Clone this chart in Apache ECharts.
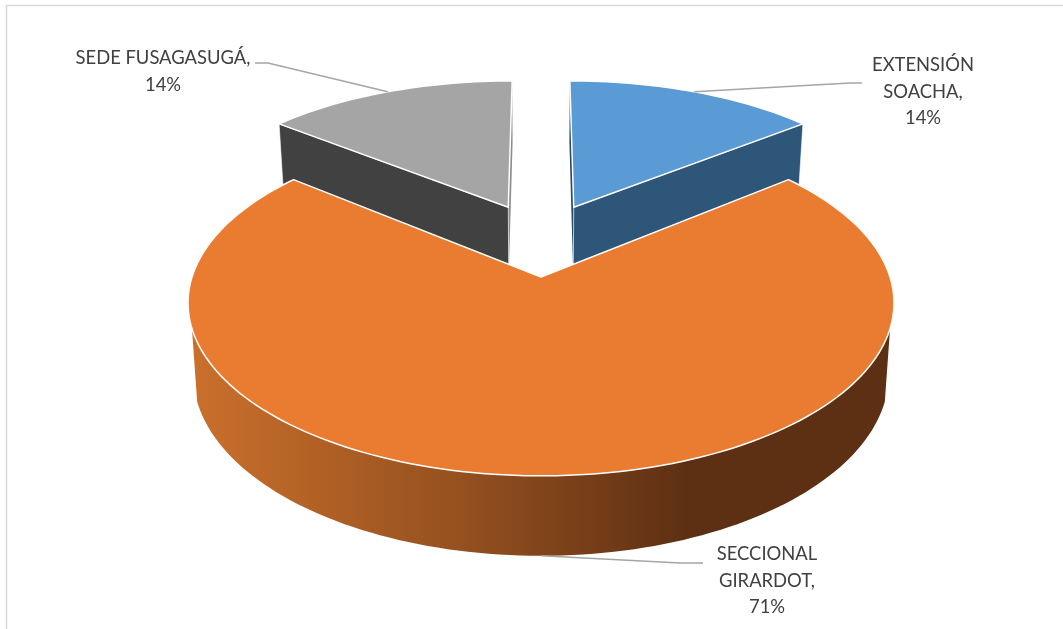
<!DOCTYPE html>
<html><head><meta charset="utf-8">
<style>html,body{margin:0;padding:0;background:#fff}#c{width:1063px;height:629px}</style>
<script src="https://cdn.jsdelivr.net/npm/echarts@6/dist/echarts.min.js"></script>
</head><body><div id="c"></div>
<script>
// data
const categories = ['EXTENSIÓN\nSOACHA,', 'SECCIONAL\nGIRARDOT,', 'SEDE FUSAGASUGÁ,'];
const percents = [14, 71, 14];
const topColors = ['#5b9bd5', '#ea7c31', '#a5a5a5'];
const wallColors = ['#2e5678', '#5e3013', '#414141'];
const innerColors = ['#27496a', '#5e3013', '#8c8c8c'];

// layout
const CX = 541, CY = 277, A = 349, B = 169, P = 0.15, DEPTH = 70.5, LOWER = 0.985;
const SIL = 107;                               // silhouette angle of the cylinder (deg from top)
const explode = [[0.1, -0.44], [0, 0], [-0.1, -0.44]];
const radiusX = [0.99, 1, 0.99];
const radiusY = [0.965, 1, 0.965];
const labelPos = [[923, 65], [767, 554], [163, 58]];
const labelElbow = [[-73, 18, -61], [-87, 9, -64], [105, 5, 92]];

const total = percents.reduce((a, b) => a + b, 0);
function rad(d) { return d * Math.PI / 180; }
function proj(X, Y, lower) {
  const w = 1 - P * Y, s = lower ? LOWER : 1;
  return [CX + s * A * X / w, CY + s * B * Y / w + (lower ? DEPTH / w : 0)];
}
function pt(i, deg, lower) {
  return proj(explode[i][0] + radiusX[i] * Math.sin(rad(deg)), explode[i][1] - radiusY[i] * Math.cos(rad(deg)), lower);
}
function arc(i, a0, a1, lower) {
  const out = [], n = Math.max(2, Math.ceil(Math.abs(a1 - a0) / 1.5));
  for (let k = 0; k <= n; k++) out.push(pt(i, a0 + (a1 - a0) * k / n, lower));
  return out;
}
const apex = (i, lower) => proj(explode[i][0], explode[i][1], lower);

const slices = []; let acc = 0;
percents.forEach((v, i) => { const a = acc * 360 / total; acc += v; slices.push([i, a, acc * 360 / total]); });

function poly(points, fill, extra) {
  return { type: 'polygon', shape: { points }, style: Object.assign({ fill }, extra || {}) };
}
const wallGradient = { type: 'linear', x: 190, y: 0, x2: 685, y2: 0, global: true, colorStops: [
  { offset: 0, color: '#cb702c' }, { offset: 0.55, color: '#94501f' }, { offset: 1, color: '#5e3013' }] };
const edge = { stroke: '#ffffff', lineWidth: 1.5, lineJoin: 'round' };

function renderSlice(params, api) {
  const i = api.value(0), a0 = api.value(1), a1 = api.value(2);
  const children = [];
  const big = a1 - a0 > 180;
  if (!big) {
    // cut faces seen from the camera: the radial walls of the exploded slices
    const outerCut = a0 < 1 ? a1 : a0;
    const innerCut = a0 < 1 ? a0 : a1;
    children.push(poly([apex(i, false), pt(i, innerCut, false), pt(i, innerCut, true), apex(i, true)], innerColors[i]));
    children.push(poly([apex(i, false), pt(i, outerCut, false), pt(i, outerCut, true), apex(i, true)], wallColors[i], { stroke: '#fff', lineWidth: 0.6 }));
    children.push(poly([apex(i, false)].concat(arc(i, a0, a1, false)), topColors[i], edge));
  } else {
    const s = Math.max(a0, SIL), e = Math.min(a1, 360 - SIL);
    children.push(poly(arc(i, s, e, false).concat(arc(i, e, s, true)), wallGradient));
    children.push(poly([apex(i, false)].concat(arc(i, a0, a1, false)), topColors[i], edge));
  }
  return { type: 'group', children };
}

function renderLabels(params, api) {
  const i = api.value(0), mid = (api.value(1) + api.value(2)) / 2;
  const big = api.value(2) - api.value(1) > 180;
  const anchor = pt(i, mid, big);
  const [lx, ly] = labelPos[i], [ex, ey, gx] = labelElbow[i];
  const elbow = [lx + ex, ly + ey];
  const lineEnd = [lx + gx, ly + ey];
  const text = categories[i] + '\n' + percents[i] + '%';
  return { type: 'group', children: [
    { type: 'polyline', shape: { points: [anchor, elbow, lineEnd] }, style: { fill: 'none', stroke: '#a5a5a5', lineWidth: 1.6 } },
    { type: 'text', x: lx, y: ly - 13, style: { text, fill: '#404040', font: '18.4px Lato', align: 'center', verticalAlign: 'top', lineHeight: 26.5 } }
  ] };
}

const chart = echarts.init(document.getElementById('c'), null, { renderer: 'canvas' });
chart.setOption({
  animation: false,
  backgroundColor: '#ffffff',
  graphic: [{ type: 'polyline', z: 0, shape: { points: [[6.5, 629], [6.5, 5.5], [1063, 5.5]] }, style: { fill: 'none', stroke: '#d9d9d9', lineWidth: 1.5 } }],
  series: [
    { type: 'custom', coordinateSystem: 'none', renderItem: renderSlice, data: [slices[2], slices[0], slices[1]], encode: {}, silent: true, z: 2 },
    { type: 'custom', coordinateSystem: 'none', renderItem: renderLabels, data: slices, silent: true, z: 3 }
  ]
});
</script></body></html>
